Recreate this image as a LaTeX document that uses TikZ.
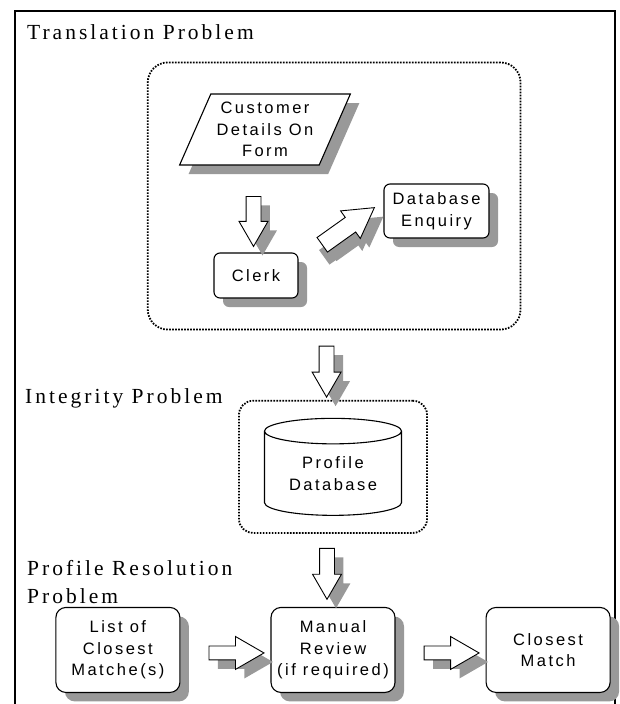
\documentclass[tikz,border=0pt]{standalone}
\usepackage{fontspec}
\setmainfont{Liberation Serif}
\setsansfont{Liberation Sans}
\newfontfamily\headfont[LetterSpace=14]{Liberation Serif}
\newfontfamily\labelfont[LetterSpace=15]{Liberation Sans}
\usepackage{tikz}
\usetikzlibrary{positioning,shapes.geometric,shapes.arrows,shadows,fit,calc}
\tikzset{
  shadowed/.style={drop shadow={shadow xshift=9pt, shadow yshift=-9pt,
    opacity=1, fill=black!40}},
  procbox/.style={draw, fill=white, line width=1.1pt, rounded corners=6pt,
    align=center, inner sep=0pt, font=\labelfont\fontsize{16.5}{21.5}\selectfont,
    shadowed},
  resbox/.style={procbox, rounded corners=10pt, minimum width=124pt,
    minimum height=85pt},
  formbox/.style={procbox, sharp corners, trapezium, trapezium left angle=63,
    trapezium right angle=117, trapezium stretches=true,
    minimum width=171pt, minimum height=71pt},
  dbcyl/.style={draw, fill=white, line width=1.1pt, cylinder,
    shape border rotate=90, aspect=0.29, minimum width=137pt,
    minimum height=97pt, align=center, inner sep=0pt,
    font=\labelfont\fontsize{16.5}{21.5}\selectfont},
  groupbox/.style={draw, line width=1.8pt, dash pattern=on 1.6pt off 1.4pt,
    rounded corners=20pt},
  blockarr/.style={single arrow, draw, fill=white, line width=0.9pt,
    inner sep=7pt, single arrow head extend=7pt,
    single arrow tip angle=60, shadowed},
  heading/.style={font=\headfont\fontsize{21.5}{28}\selectfont,
    anchor=base west, inner sep=0pt, align=left},
}
\begin{document}
\begin{tikzpicture}[x=1pt, y=-1pt]
  \useasboundingbox (0,0) rectangle (620,704);
  % Frame
  \draw[line width=2.4pt] (15,704) |- (615,11) -- (615,704);

  % Translation problem
  \node[heading] (transtitle) at (27,39.5) {Translation Problem};
  \node[formbox] (form) at (265,129.5) {Customer\\Details On\\Form};
  \node[procbox, minimum width=84pt, minimum height=45pt] (clerk)
    at (256,275.5) {Clerk};
  \node[procbox, minimum width=105pt, minimum height=54pt] (dbenq)
    at (436.5,211) {Database\\Enquiry};
  \node[groupbox, fit=(form.bottom left corner)(form.top right corner)(clerk)(dbenq),
    inner sep=31pt] (transgroup) {};

  \node[blockarr, shape border rotate=270, minimum height=50pt]
    (arrformclerk) at ($(form.south)!.5!(clerk.north)+(-7,6)$) {};
  \node[blockarr, rotate=35.5, minimum height=64pt, inner sep=8.5pt,
    single arrow head extend=8pt,
    drop shadow={shadow xshift=2pt, shadow yshift=-12.5pt, opacity=1,
    fill=black!40}] (arrclerkdb)
    at ($(clerk.north east)!.5!(dbenq.west)+(1,-1)$) {};

  % Integrity problem
  \node[heading] (integtitle) at (25,403) {Integrity Problem};
  \node[dbcyl] (profiledb) at (333,473.5) {Profile\\Database};
  \node[groupbox, fit=(profiledb), inner xsep=25pt, inner ysep=17pt,
    rounded corners=14pt] (integgroup) {};

  \node[blockarr, shape border rotate=270, minimum height=51pt]
    (arrtransdb) at ($(transgroup.south)!.5!(integgroup.north)+(-7,0)$) {};

  % Profile resolution problem
  \node[heading] (restitle) at (27,603) {Profile Resolution\\Problem};
  \node[resbox, below=91pt of profiledb] (review)
    {Manual\\Review\\(if required)};
  \node[resbox, left=90pt of review] (closelist)
    {List of\\Closest\\Matche(s)};
  \node[resbox, right=90pt of review] (bestmatch) {Closest\\Match};

  \node[blockarr, shape border rotate=270, minimum height=51pt]
    (arrdbreview) at ($(integgroup.south)!.5!(review.north)+(-6,-3)$) {};
  \node[blockarr, minimum height=55pt, inner sep=6.5pt,
    single arrow head extend=9.5pt] (arrlistreview)
    at ($(closelist.east)!.5!(review.west)+(5,3)$) {};
  \node[blockarr, minimum height=55pt, inner sep=6.5pt,
    single arrow head extend=9.5pt] (arrreviewbest)
    at ($(review.east)!.5!(bestmatch.west)+(5,3)$) {};
\end{tikzpicture}
\end{document}
